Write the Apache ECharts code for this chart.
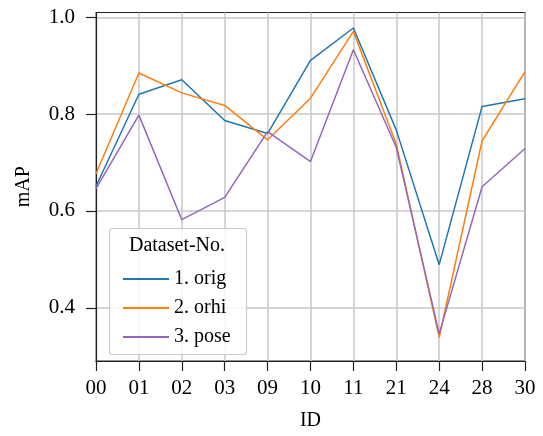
<!DOCTYPE html>
<html>
<head>
<meta charset="utf-8">
<script src="https://cdn.jsdelivr.net/npm/echarts@6/dist/echarts.min.js"></script>
<style>html,body{margin:0;padding:0;background:#fff}#c{width:543px;height:436px}</style>
</head>
<body>
<div id="c"></div>
<script>
var categories = ['00','01','02','03','09','10','11','21','24','28','30'];
var seriesNames = ['1. orig','2. orhi','3. pose'];
var orig = [0.651,0.841,0.871,0.787,0.760,0.911,0.978,0.767,0.489,0.816,0.832];
var orhi = [0.677,0.885,0.844,0.818,0.747,0.833,0.971,0.738,0.339,0.745,0.888];
var pose = [0.646,0.798,0.582,0.628,0.764,0.702,0.933,0.731,0.346,0.650,0.729];
var yTicks = [0.4,0.6,0.8,1.0];
var colors = ['#1f77b4','#ff7f0e','#9467bd'];

var font = '"Liberation Serif", "DejaVu Serif", serif';
var chart = echarts.init(document.getElementById('c'), null, {renderer:'canvas'});
function mk(name, data, color){
  return {name:name, type:'line', data:data, symbol:'none', showSymbol:false,
    lineStyle:{color:color, width:1.5}, itemStyle:{color:color}, z:2};
}
chart.setOption({
  animation:false,
  textStyle:{fontFamily:font},
  grid:{left:96, right:18, top:12.5, bottom:70, show:true, borderColor:'#222', borderWidth:1.2, backgroundColor:'transparent'},
  xAxis:{type:'category', data:categories, boundaryGap:false,
    name:'ID', nameLocation:'middle', nameGap:50,
    nameTextStyle:{fontFamily:font, fontSize:20, color:'#000'},
    axisLine:{lineStyle:{color:'#222', width:1.2}},
    axisTick:{show:true, alignWithLabel:true, length:10, lineStyle:{color:'#222', width:1.2}},
    axisLabel:{fontFamily:font, fontSize:21, color:'#000', margin:17},
    splitLine:{show:true, lineStyle:{color:'#c8c8c8', width:1.5}}
  },
  yAxis:{type:'value', min:0.29, max:1.01,
    name:'mAP', nameLocation:'middle', nameGap:62,
    nameTextStyle:{fontFamily:font, fontSize:20, color:'#000'},
    axisLine:{show:true, lineStyle:{color:'#222', width:1.2}},
    axisTick:{show:true, length:10, customValues:yTicks, lineStyle:{color:'#222', width:1.2}},
    axisLabel:{fontFamily:font, fontSize:21, color:'#000', margin:21, customValues:yTicks,
      formatter:function(v){return v.toFixed(1);}},
    splitLine:{show:true, lineStyle:{color:'#c8c8c8', width:1.5}}
  },
  legend:{show:true, orient:'vertical', left:118, top:264, itemWidth:46, itemHeight:2, itemGap:9,
    icon:'rect', data:seriesNames, z:10,
    textStyle:{fontFamily:font, fontSize:20, color:'#000'}},
  graphic:[
    {type:'rect', z:3, shape:{x:109.5, y:228.5, width:137, height:126, r:3},
      style:{fill:'rgba(255,255,255,0.8)', stroke:'#cccccc', lineWidth:1.2}},
    {type:'text', z:4, x:177, y:246, style:{text:'Dataset-No.', font:'20px "Liberation Serif"', fill:'#000', align:'center', verticalAlign:'middle'}}
  ],
  series:[mk(seriesNames[0], orig, colors[0]), mk(seriesNames[1], orhi, colors[1]), mk(seriesNames[2], pose, colors[2])]
});
</script>
</body>
</html>
